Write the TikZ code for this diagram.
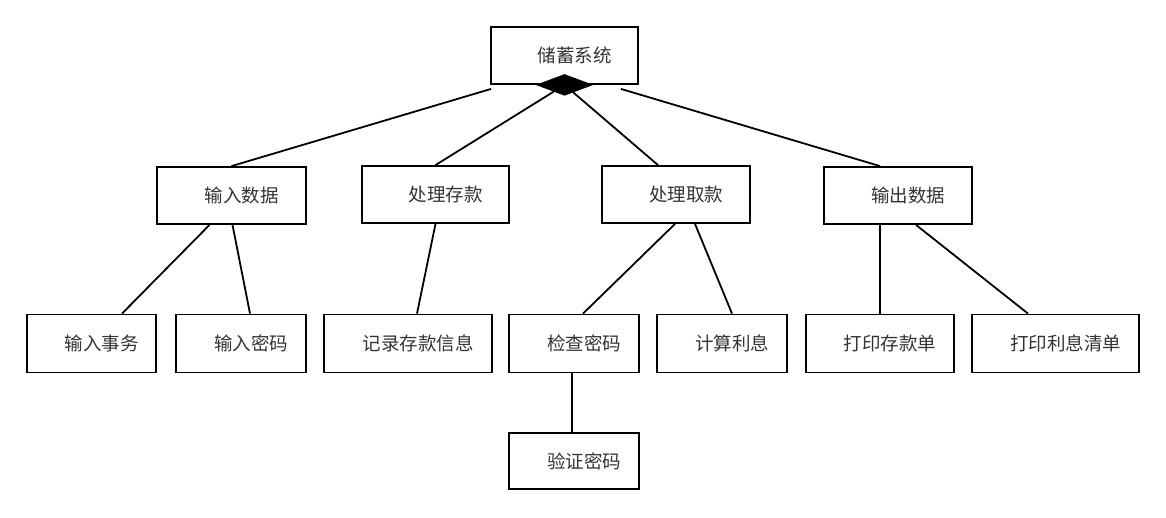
\documentclass[tikz,border=0pt]{standalone}
\usepackage{fontspec}
\newfontfamily\cjk{Noto Sans CJK SC}
\usepackage{tikz}
\usetikzlibrary{shapes.geometric}

\begin{document}
\begin{tikzpicture}[
    x=1pt, y=-1pt,
    box/.style={rectangle, draw, line width=1.8pt, minimum height=57pt, inner sep=0pt, align=center, text=black!80, font=\cjk\fontsize{18.5}{20}\selectfont},
    link/.style={line width=1.8pt}
]
\useasboundingbox (0,0) rectangle (1166,517);

% Root
\node[box, minimum width=147pt] (root) at (564.5,55.5) {\hspace*{20pt}储蓄系统};
\node[diamond, fill=black, draw, line width=0.6pt, minimum width=56pt, minimum height=21pt, inner sep=0pt] (agg) at (root.south) {};

% Second level
\node[box, minimum width=149pt] (input) at (231.5,195.5) {\hspace*{20pt}输入数据};
\node[box, minimum width=147pt] (deposit) at (435.5,194.5) {\hspace*{20pt}处理存款};
\node[box, minimum width=148pt] (withdraw) at (676,194.5) {\hspace*{20pt}处理取款};
\node[box, minimum width=148pt] (output) at (898,195.5) {\hspace*{20pt}输出数据};

% Third level
\node[box, minimum width=129pt, minimum height=58pt] (trans) at (91.5,343.5) {\hspace*{20pt}输入事务};
\node[box, minimum width=130pt, minimum height=58pt] (pwd) at (241,343.5) {\hspace*{20pt}输入密码};
\node[box, minimum width=168pt, minimum height=58pt] (record) at (408,343.5) {\hspace*{20pt}记录存款信息};
\node[box, minimum width=130pt, minimum height=58pt] (check) at (574,343.5) {\hspace*{20pt}检查密码};
\node[box, minimum width=130pt, minimum height=58pt] (interest) at (722,343.5) {\hspace*{20pt}计算利息};
\node[box, minimum width=148pt, minimum height=58pt] (slip) at (880,343.5) {\hspace*{20pt}打印存款单};
\node[box, minimum width=167pt, minimum height=58pt] (list) at (1055.5,343.5) {\hspace*{20pt}打印利息清单};

% Fourth level
\node[box, minimum width=130pt, minimum height=56pt] (verify) at (574,461) {\hspace*{20pt}验证密码};

% Lines
\draw[link] ([shift={(1,4)}]root.south west) -- (input.north);
\draw[link] (agg) -- (deposit.north);
\draw[link] (agg) -- ([shift={(-18,0)}]withdraw.north);
\draw[link] ([shift={(-18,4)}]root.south east) -- ([shift={(-18,0)}]output.north);

\draw[link] ([shift={(-22,0)}]input.south) -- ([shift={(30.5,0)}]trans.north);
\draw[link] ([shift={(1,0)}]input.south) -- ([shift={(9,0)}]pwd.north);
\draw[link] (deposit.south) -- ([shift={(9,0)}]record.north);
\draw[link] ([shift={(-1,0)}]withdraw.south) -- ([shift={(9,0)}]check.north);
\draw[link] ([shift={(19,0)}]withdraw.south) -- ([shift={(10,0)}]interest.north);
\draw[link] ([shift={(-18,0)}]output.south) -- (slip.north);
\draw[link] ([shift={(18,0)}]output.south) -- ([shift={(-27.5,0)}]list.north);
\draw[link] ([shift={(-2,0)}]check.south) -- ([shift={(-2,0)}]verify.north);

\end{tikzpicture}
\end{document}
